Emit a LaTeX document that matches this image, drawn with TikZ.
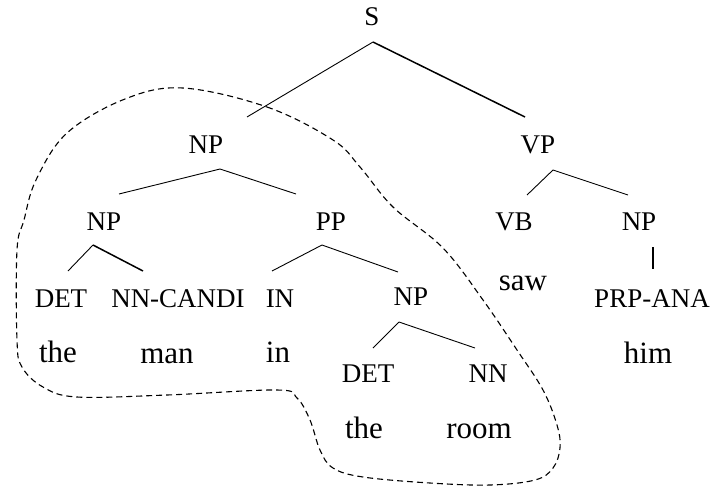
\documentclass[tikz,border=0pt]{standalone}
\usepackage{fontspec}
\setmainfont{Liberation Serif}
\begin{document}
\begin{tikzpicture}[x=1pt, y=-1pt,
    lbl/.style={inner sep=0pt, anchor=base, font=\fontsize{27}{30}\selectfont},
    word/.style={inner sep=0pt, anchor=base, font=\fontsize{31}{34}\selectfont},
    branch/.style={line width=0.9pt},
    heavy/.style={line width=1.5pt},
    blob/.style={line width=1.1pt, dash pattern=on 6pt off 4pt}]
    \useasboundingbox (0,0) rectangle (712,490);

    % category labels
    \node[lbl] (s)    at (372,25)  {S};
    \node[lbl] (np1)  at (206,153) {NP};
    \node[lbl] (vp)   at (538,153) {VP};
    \node[lbl] (np2)  at (104,230) {NP};
    \node[lbl] (pp)   at (331,230) {PP};
    \node[lbl] (vb)   at (514,230) {VB};
    \node[lbl] (np3)  at (639,230) {NP};
    \node[lbl] (det1) at (61,307)  {DET};
    \node[lbl] (nnc)  at (178,307) {NN-CANDI};
    \node[lbl] (in)   at (280,307) {IN};
    \node[lbl] (np4)  at (411,305) {NP};
    \node[lbl] (prp)  at (652,307) {PRP-ANA};
    \node[lbl] (det2) at (368,382) {DET};
    \node[lbl] (nn)   at (488,382) {NN};

    % words
    \node[word] (w-the1) at (58,362)  {the};
    \node[word] (w-man)  at (167,363) {man};
    \node[word] (w-in)   at (278,362) {in};
    \node[word] (w-saw)  at (523,290) {saw};
    \node[word] (w-him)  at (648,363) {him};
    \node[word] (w-the2) at (364,438) {the};
    \node[word] (w-room) at (479,438) {room};

    % branches
    \draw[branch] ([shift={(1,17)}]s.base) -- ([shift={(41,-36)}]np1.base);
    \draw[heavy]  ([shift={(1,17)}]s.base) -- ([shift={(-13,-36)}]vp.base);
    \draw[branch] ([shift={(14,16)}]np1.base) -- ([shift={(15,-36)}]np2.base);
    \draw[branch] ([shift={(14,16)}]np1.base) -- ([shift={(-35,-36)}]pp.base);
    \draw[branch] ([shift={(15,17)}]vp.base) -- ([shift={(13,-35)}]vb.base);
    \draw[branch] ([shift={(15,17)}]vp.base) -- ([shift={(-11,-35)}]np3.base);
    \draw[branch] ([shift={(-11,15)}]np2.base) -- ([shift={(7,-36)}]det1.base);
    \draw[heavy]  ([shift={(-11,15)}]np2.base) -- ([shift={(-35,-36)}]nnc.base);
    \draw[branch] ([shift={(-9,15)}]pp.base) -- ([shift={(-8,-36)}]in.base);
    \draw[branch] ([shift={(-9,15)}]pp.base) -- ([shift={(-13,-33)}]np4.base);
    \draw[line width=2.2pt] ([shift={(14,17)}]np3.base) -- ([shift={(1,-38)}]prp.base);
    \draw[branch] ([shift={(-12,17)}]np4.base) -- ([shift={(5,-34)}]det2.base);
    \draw[branch] ([shift={(-12,17)}]np4.base) -- ([shift={(-13,-34)}]nn.base);

    % dashed region round the candidate
    \draw[blob] plot[smooth cycle, tension=0.6] coordinates {
        (183,88) (267,107) (333,140) (360,167) (393,207) (443,248)
        (483,300) (517,350) (543,390) (557,425) (560,448) (553,468)
        (535,480) (490,485) (430,483) (363,477) (333,468) (320,450)
        (310,420) (297,398) (277,390) (167,395) (77,397) (43,387)
        (22,367) (17,340) (17,250) (24,220) (36,180) (67,133) (125,99)};
\end{tikzpicture}
\end{document}
